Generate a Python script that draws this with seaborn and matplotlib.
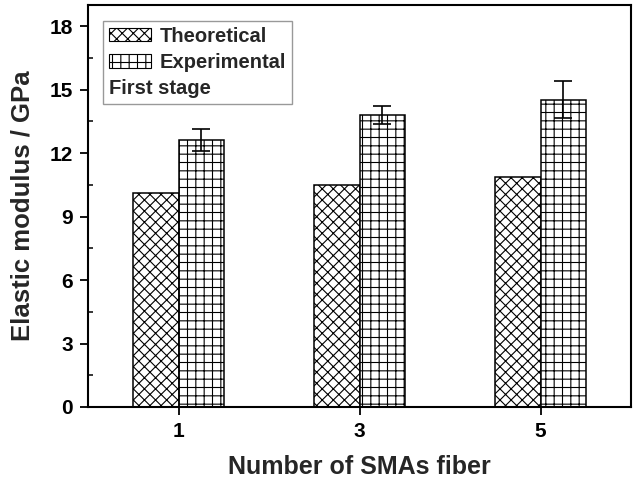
import numpy as np
import pandas as pd
import matplotlib
matplotlib.use("Agg")
import matplotlib.pyplot as plt
import matplotlib.hatch as mhatch
from matplotlib.patches import Patch
from matplotlib.ticker import MultipleLocator
import seaborn as sns

# ---- data ----
n_fibers = [1, 3, 5]
theoretical = [10.10, 10.47, 10.85]
experimental = [12.63, 13.80, 14.52]
exp_err = [0.53, 0.42, 0.88]
series_names = ["Theoretical", "Experimental"]
yticks = [0, 3, 6, 9, 12, 15, 18]

# denser cross-hatch than matplotlib default density (even line count tiles cleanly)
_orig_get_path = mhatch.get_path
def _get_path(pattern, density=6):
    if pattern and "x" in pattern:
        density = 18
    return _orig_get_path(pattern, density)
mhatch.get_path = _get_path

sns.set_style("ticks")
plt.rcParams["font.family"] = ["Liberation Sans", "DejaVu Sans"]
plt.rcParams["font.weight"] = "bold"
plt.rcParams["hatch.linewidth"] = 0.8
plt.rcParams["hatch.color"] = "black"

df = pd.DataFrame({
    "n": n_fibers * 2,
    "value": theoretical + experimental,
    "type": [series_names[0]] * 3 + [series_names[1]] * 3,
})

fig = plt.figure(figsize=(6.36, 4.82), dpi=100)
ax = fig.add_axes([88 / 636, 1 - 407 / 482, (631 - 88) / 636, (407 - 5) / 482])

sns.barplot(data=df, x="n", y="value", hue="type", hue_order=series_names,
            native_scale=True, width=0.5, palette=["white", "white"],
            edgecolor="black", linewidth=1.1, legend=False, ax=ax)

hatches = ["x", "++"]
for cont, h in zip(ax.containers, hatches):
    for bar in cont:
        bar.set_hatch(h)

# error bars on experimental bars
exp_bars = ax.containers[1]
xs = [b.get_x() + b.get_width() / 2 for b in exp_bars]
ax.errorbar(xs, experimental, yerr=exp_err, fmt="none", ecolor="black",
            elinewidth=1.2, capsize=6.5, capthick=1.2, zorder=5)

ax.set_xlim(0, 6)
ax.set_ylim(0, 19)
ax.set_xticks(n_fibers)
ax.set_xticklabels([str(v) for v in n_fibers])
ax.set_yticks(yticks)
ax.yaxis.set_minor_locator(MultipleLocator(1.5))

for s in ax.spines.values():
    s.set_visible(True)
    s.set_linewidth(1.5)
    s.set_color("black")

ax.tick_params(axis="both", which="major", direction="out", length=6,
               width=1.3, labelsize=15, colors="black", pad=5)
ax.tick_params(axis="y", which="minor", direction="in", length=3.5,
               width=1.3, left=True)
ax.tick_params(axis="x", which="minor", bottom=False)
ax.tick_params(top=False, right=False)
for lab in ax.get_xticklabels() + ax.get_yticklabels():
    lab.set_fontweight("bold")

ax.set_xlabel("Number of SMAs fiber", fontsize=18, fontweight="bold")
ax.set_ylabel("Elastic modulus / GPa", fontsize=18.5, fontweight="bold")
ax.xaxis.set_label_coords(0.5, -(467 - 407) / 402, transform=ax.transAxes)
ax.yaxis.set_label_coords(-(88 - 23) / 543, 0.5, transform=ax.transAxes)
ax.xaxis.label.set_va("center")
ax.yaxis.label.set_va("center")

handles = [Patch(facecolor="white", edgecolor="black", hatch=h, linewidth=0.8)
           for h in hatches]
leg = ax.legend(handles, series_names, loc="upper left",
                bbox_to_anchor=(15 / 543, 1 - 16 / 402), borderaxespad=0,
                title="First stage", alignment="left", fancybox=False,
                frameon=True, handlelength=2.1, handleheight=0.62,
                handletextpad=0.4, labelspacing=0.35, borderpad=0.3,
                prop={"size": 14.5, "weight": "bold"},
                title_fontproperties={"size": 14.5, "weight": "bold"})
leg.get_frame().set_edgecolor("#808080")
leg.get_frame().set_linewidth(1.0)
# put the title below the entries
box = leg._legend_box
box._children = [box._children[1], box._children[0]]

fig.savefig("out.png", dpi=100)
